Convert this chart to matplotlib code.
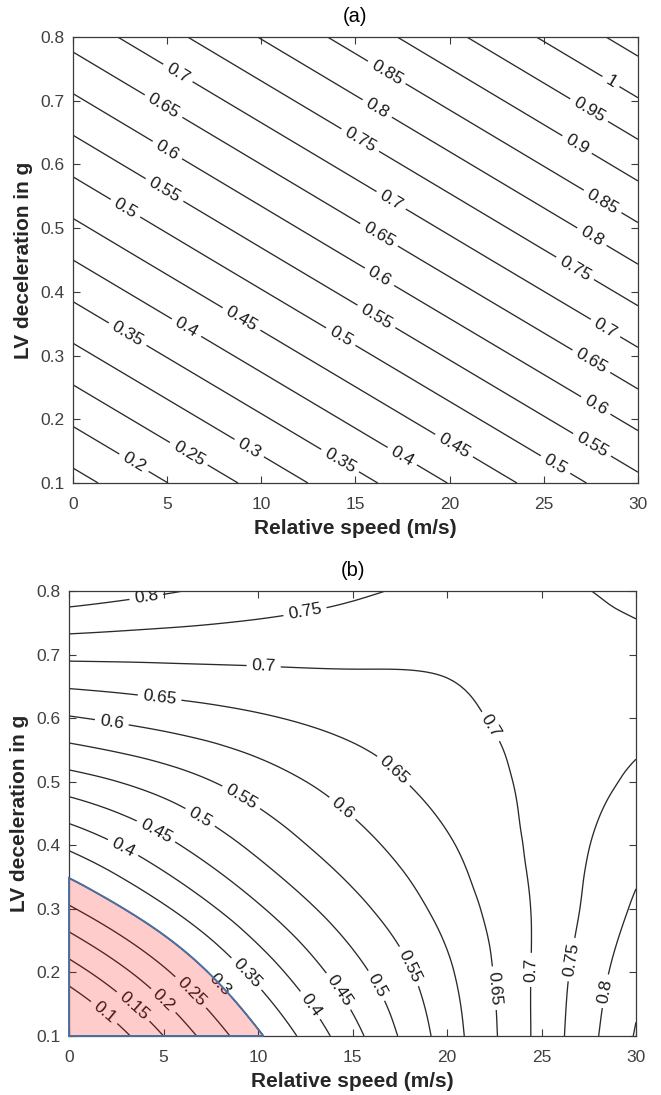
import numpy as np
import matplotlib
matplotlib.use("Agg")
import matplotlib.pyplot as plt
import matplotlib.tri as mtri
from matplotlib.patches import PathPatch

plt.rcParams['font.family'] = ['Liberation Sans', 'DejaVu Sans']

# ---- panel (a): values read at a coarse speed / deceleration grid
speed_a = [0, 15, 30]
decel_a = [0.1, 0.45, 0.8]
risk_a = [[0.132, 0.334, 0.537],
          [0.400, 0.603, 0.805],
          [0.668, 0.870, 1.073]]
levels_a = [0.15, 0.2, 0.25, 0.3, 0.35, 0.4, 0.45, 0.5, 0.55, 0.6, 0.65,
            0.7, 0.75, 0.8, 0.85, 0.9, 0.95, 1.0, 1.05]

# ---- panel (b): values read at v = 0..30 step 5, d = 0.1..0.8 step 0.1
speed_b = [0, 5, 10, 15, 20, 25, 30]
decel_b = [0.1, 0.2, 0.3, 0.4, 0.5, 0.6, 0.7, 0.8]
risk_b = [[0.008, 0.150, 0.292, 0.433, 0.574, 0.716, 0.854],
          [0.125, 0.241, 0.366, 0.481, 0.591, 0.714, 0.834],
          [0.243, 0.342, 0.443, 0.533, 0.618, 0.711, 0.808],
          [0.360, 0.436, 0.513, 0.581, 0.644, 0.714, 0.783],
          [0.478, 0.523, 0.575, 0.623, 0.670, 0.713, 0.759],
          [0.596, 0.620, 0.644, 0.667, 0.689, 0.716, 0.737],
          [0.712, 0.712, 0.712, 0.710, 0.708, 0.722, 0.736],
          [0.830, 0.805, 0.781, 0.758, 0.738, 0.738, 0.765]]
levels_b = [0.1, 0.15, 0.2, 0.25, 0.3, 0.35, 0.4, 0.45, 0.5, 0.55, 0.6,
            0.65, 0.7, 0.75, 0.8, 0.85]
safe_level = 0.3

# where the inline labels sit (speed, deceleration)
labels_a = {
    0.2: [(3.2, 0.13)], 0.25: [(6.05, 0.141)], 0.3: [(9.24, 0.149)],
    0.35: [(2.87, 0.332), (14.2, 0.136)], 0.4: [(6.05, 0.345), (17.4, 0.138)],
    0.45: [(8.9, 0.355), (20.2, 0.157)], 0.5: [(2.78, 0.531), (14.2, 0.329), (25.6, 0.128)],
    0.55: [(4.9, 0.562), (16.2, 0.366), (27.5, 0.157)],
    0.6: [(5.0, 0.622), (16.2, 0.42), (27.7, 0.219)],
    0.65: [(4.9, 0.696), (16.4, 0.497), (27.5, 0.29)],
    0.7: [(5.6, 0.745), (16.9, 0.544), (28.25, 0.342)],
    0.75: [(15.25, 0.638), (26.8, 0.444)], 0.8: [(16.2, 0.69), (27.5, 0.484)],
    0.85: [(16.67, 0.745), (28.1, 0.541)], 0.9: [(26.8, 0.633)],
    0.95: [(27.5, 0.69)], 1.0: [(28.6, 0.732)],
}
labels_b = {
    0.1: [(1.75, 0.133)], 0.15: [(3.23, 0.141)], 0.2: [(4.9, 0.153)],
    0.25: [(6.35, 0.166)], 0.3: [(8.0, 0.182)], 0.35: [(9.4, 0.198)],
    0.4: [(2.87, 0.397), (12.66, 0.146)], 0.45: [(4.64, 0.424), (14.25, 0.17)],
    0.5: [(7.02, 0.448), (16.2, 0.178)], 0.55: [(9.14, 0.477), (17.95, 0.209)],
    0.6: [(2.26, 0.593), (14.6, 0.463)],
    0.65: [(4.8, 0.634), (17.2, 0.518), (22.45, 0.175)],
    0.7: [(10.3, 0.682), (22.6, 0.592), (24.36, 0.204)],
    0.75: [(12.5, 0.765), (26.6, 0.22)], 0.8: [(4.1, 0.789), (28.45, 0.17)],
}

line_col = '#2a2a2a'
axis_col = '#3a3a3a'


def fmt(x):
    return f"{x:g}"


def style(ax, title):
    ax.set_xlim(0, 30)
    ax.set_ylim(0.1, 0.8)
    ax.set_xticks([0, 5, 10, 15, 20, 25, 30])
    ax.set_yticks([0.1, 0.2, 0.3, 0.4, 0.5, 0.6, 0.7, 0.8])
    ax.set_yticklabels([fmt(t) for t in ax.get_yticks()])
    ax.tick_params(direction='in', top=True, right=True, length=5, width=0.8,
                   color=axis_col, labelcolor='#404040', labelsize=12.5)
    ax.tick_params(axis='x', pad=10)
    ax.tick_params(axis='y', pad=6)
    for s in ax.spines.values():
        s.set_color(axis_col)
        s.set_linewidth(0.9)
    ax.set_xlabel('Relative speed (m/s)', fontsize=15, fontweight='bold',
                  color='#262626', labelpad=5)
    ax.set_ylabel('LV deceleration in g', fontsize=15, fontweight='bold',
                  color='#262626', labelpad=5)
    ax.set_title(title, fontsize=14.5, pad=11)


def draw_levels(contour_fn, levels, positions):
    # one contour set per level, so each manual label snaps to its own line
    for lev in levels:
        cs = contour_fn(lev)
        pts = positions.get(lev)
        if pts:
            cs.clabel(manual=pts, inline=True, inline_spacing=5,
                      fmt=fmt, fontsize=12.5, colors='#1a1a1a')


fig = plt.figure(figsize=(6.61, 10.95), dpi=100)
ax_a = fig.add_axes([0.1104, 0.5589, 0.8548, 0.4073])
ax_b = fig.add_axes([0.1044, 0.0539, 0.8578, 0.4064])

# (a)
style(ax_a, '(a)')
draw_levels(lambda lev: ax_a.contour(speed_a, decel_a, risk_a, levels=[lev],
                                     colors=line_col, linewidths=0.95),
            levels_a, labels_a)

# (b): smooth the coarse table with matplotlib's cubic tri refiner
style(ax_b, '(b)')
V, D = np.meshgrid(speed_b, decel_b)
z = np.array(risk_b).ravel()
tri = mtri.Triangulation(V.ravel() / 5.0, (D.ravel() - 0.1) / 0.1)
tri_r, z_r = mtri.UniformTriRefiner(tri).refine_field(z, subdiv=4)
tri_b = mtri.Triangulation(tri_r.x * 5.0, tri_r.y * 0.1 + 0.1, tri_r.triangles)

draw_levels(lambda lev: ax_b.tricontour(tri_b, z_r, levels=[lev],
                                        colors=line_col, linewidths=0.95),
            levels_b, labels_b)

cf = ax_b.tricontourf(tri_b, z_r, levels=[-1, safe_level])
safe_path = cf.get_paths()[0]
cf.remove()
ax_b.add_patch(PathPatch(safe_path, facecolor=(1, 0, 0, 0.2),
                         edgecolor='#4d6f9f', linewidth=1.4, zorder=5,
                         clip_on=False))
ax_b.set_xlim(0, 30)
ax_b.set_ylim(0.1, 0.8)

fig.savefig('out.png', dpi=100)
